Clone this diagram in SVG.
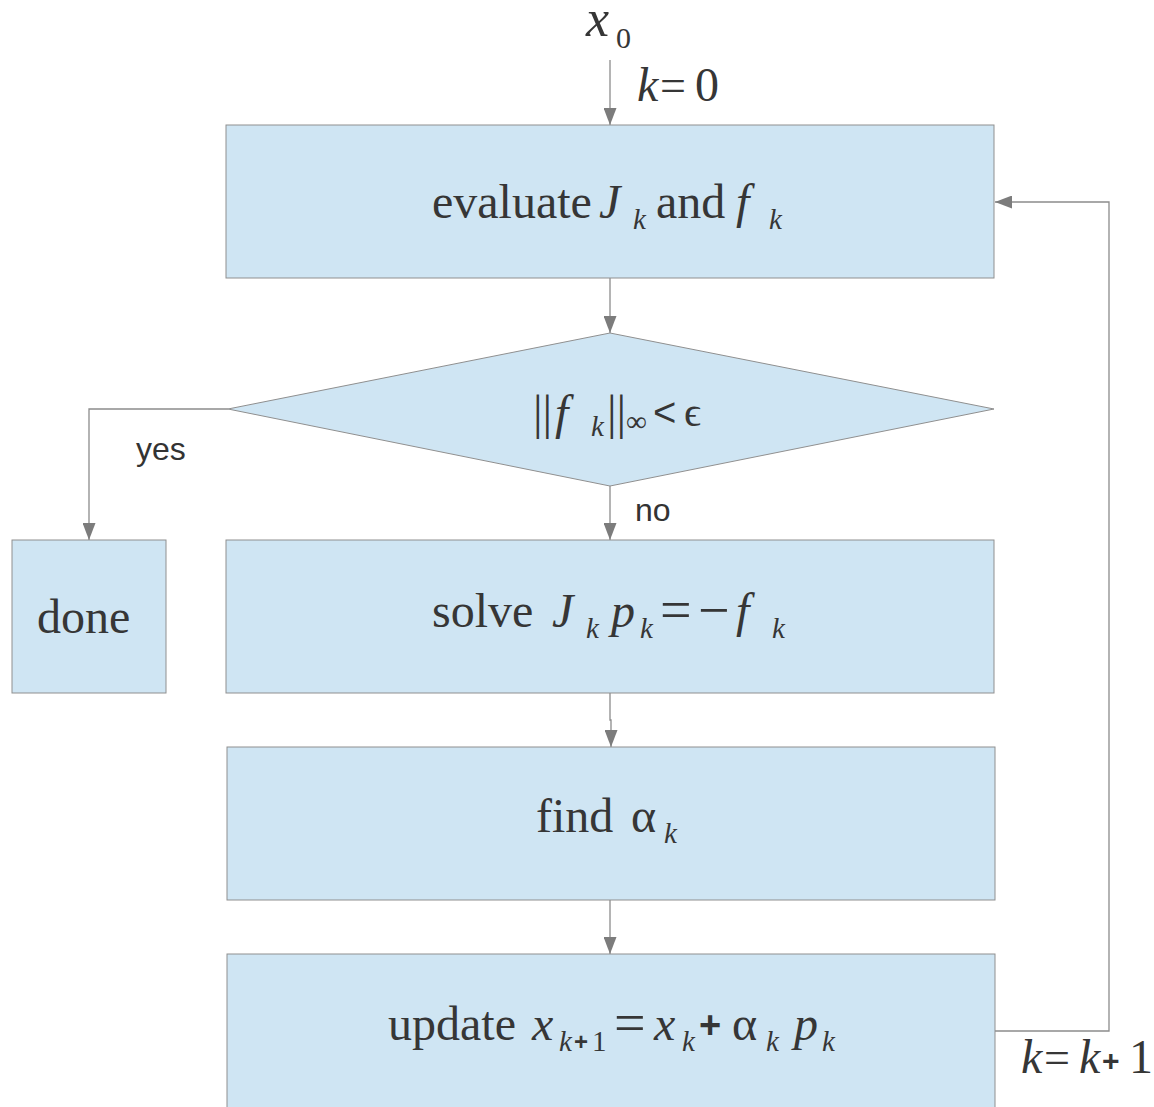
<svg xmlns="http://www.w3.org/2000/svg" width="1154" height="1107" viewBox="0 0 1154 1107">
<style>
.box{fill:#cfe5f3;stroke:#8f8f8f;stroke-width:1}
.ln{fill:none;stroke:#8c8c8c;stroke-width:1.3}
.t{font-family:"Liberation Serif",serif;fill:#363636;font-size:48px}
.i{font-style:italic}
.s{font-size:29px;font-style:italic}
.n{font-size:29px}
.eq{font-size:56px}
.sans{font-family:"Liberation Sans",sans-serif;fill:#333;font-size:32px}
</style>
<defs>
<marker id="ah" viewBox="0 0 17 13" refX="17" refY="6.5" markerWidth="17" markerHeight="13" markerUnits="userSpaceOnUse" orient="auto">
<path d="M0,0 L17,6.5 L0,13 z" fill="#7c7c7c"/>
</marker>
</defs>
<rect width="1154" height="1107" fill="#fff"/>
<g id="connectors">
<path class="ln" d="M610,60 V125" marker-end="url(#ah)"/>
<path class="ln" d="M610,278 V333" marker-end="url(#ah)"/>
<path class="ln" d="M228,409 H89 V540" marker-end="url(#ah)"/>
<path class="ln" d="M610,486 V540" marker-end="url(#ah)"/>
<path class="ln" d="M610,693 V720 H611 V747" marker-end="url(#ah)"/>
<path class="ln" d="M610,900 V954" marker-end="url(#ah)"/>
<path class="ln" d="M995,1031 H1109 V202 H995" marker-end="url(#ah)"/>
</g>
<g id="start">
<text class="t"><tspan x="586" y="36" class="i" font-size="52">x</tspan><tspan x="616" y="48" font-size="30">0</tspan></text>
<text class="t" font-size="38"><tspan x="637" y="101" class="i">k</tspan><tspan x="660" y="101" font-size="46">=</tspan><tspan x="695" y="101">0</tspan></text>
</g>
<g id="evaluate">
<rect class="box" x="226" y="125" width="768" height="153"/>
<text class="t"><tspan x="432" y="218">evaluate</tspan><tspan x="599" y="218" class="i">J</tspan><tspan x="633" y="229" class="s">k</tspan><tspan x="656" y="218">and</tspan><tspan x="736" y="218" class="i">f</tspan><tspan x="769" y="229" class="s">k</tspan></text>
</g>
<g id="decision">
<polygon class="box" points="228,409 610,333 994,409 610,486"/>
<text class="t"><tspan x="533" y="429">||</tspan><tspan x="555" y="429" class="i">f</tspan><tspan x="591" y="436" class="s">k</tspan><tspan x="607" y="429">||</tspan><tspan x="626" y="431" class="n">∞</tspan><tspan x="653" y="426" font-family="Liberation Sans,sans-serif" font-size="40">&lt;</tspan><tspan x="684" y="426" font-size="42">ϵ</tspan></text>
</g>
<g id="labels">
<text class="sans" x="136" y="460">yes</text>
<text class="sans" x="635" y="521">no</text>
</g>
<g id="done">
<rect class="box" x="12" y="540" width="154" height="153"/>
<text class="t" x="37" y="633">done</text>
</g>
<g id="solve">
<rect class="box" x="226" y="540" width="768" height="153"/>
<text class="t"><tspan x="432" y="627">solve</tspan><tspan x="552" y="627" class="i">J</tspan><tspan x="586" y="638" class="s">k</tspan><tspan x="611" y="627" class="i">p</tspan><tspan x="640" y="638" class="s">k</tspan><tspan x="660" y="629" class="eq">=</tspan><tspan x="698" y="629" class="eq">−</tspan><tspan x="736" y="627" class="i">f</tspan><tspan x="772" y="638" class="s">k</tspan></text>
</g>
<g id="find">
<rect class="box" x="227" y="747" width="768" height="153"/>
<text class="t"><tspan x="536" y="832">find</tspan><tspan x="631" y="832">α</tspan><tspan x="664" y="843" class="s">k</tspan></text>
</g>
<g id="update">
<rect class="box" x="227" y="954" width="768" height="160"/>
<text class="t"><tspan x="388" y="1040">update</tspan><tspan x="532" y="1040" class="i">x</tspan><tspan x="559" y="1051" class="s">k</tspan><tspan x="574" y="1050" font-family="Liberation Sans,sans-serif" font-weight="bold" font-size="24">+</tspan><tspan x="592" y="1051" class="n">1</tspan><tspan x="614" y="1042" class="eq">=</tspan><tspan x="654" y="1040" class="i">x</tspan><tspan x="682" y="1051" class="s">k</tspan><tspan x="699" y="1038" font-family="Liberation Sans,sans-serif" font-weight="bold" font-size="38">+</tspan><tspan x="732" y="1040">α</tspan><tspan x="766" y="1051" class="s">k</tspan><tspan x="794" y="1040" class="i">p</tspan><tspan x="822" y="1051" class="s">k</tspan></text>
</g>
<g id="increment">
<text class="t" font-size="38"><tspan x="1021" y="1073" class="i">k</tspan><tspan x="1044" y="1073" font-size="46">=</tspan><tspan x="1079" y="1073" class="i">k</tspan><tspan x="1102" y="1071" font-family="Liberation Sans,sans-serif" font-weight="bold" font-size="30">+</tspan><tspan x="1129" y="1073">1</tspan></text>
</g>
</svg>
